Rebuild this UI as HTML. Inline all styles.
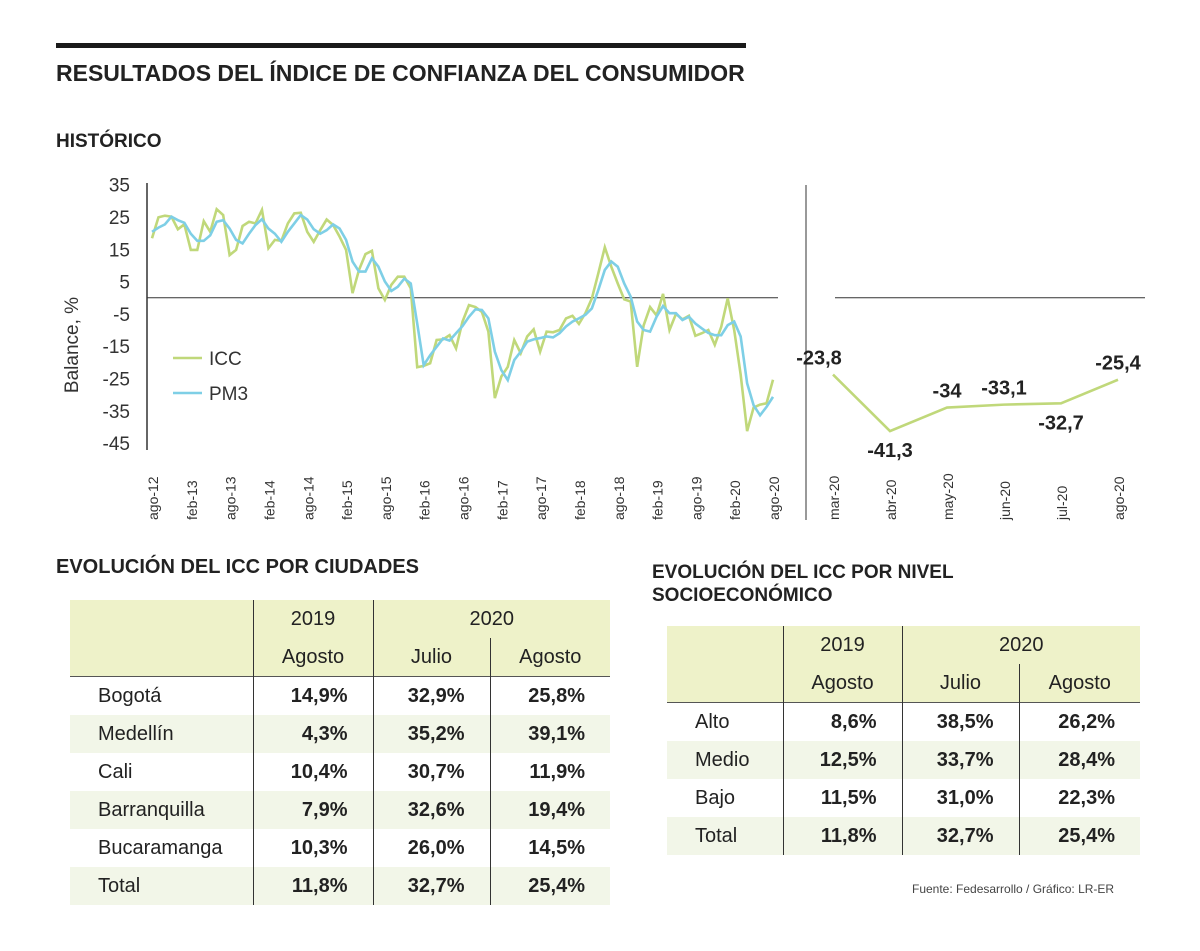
<!DOCTYPE html>
<html><head><meta charset="utf-8">
<style>
body{margin:0;background:#fff;font-family:"Liberation Sans",sans-serif;color:#222;}
#wrap{position:relative;width:1200px;height:951px;overflow:hidden;}
.t{position:absolute;white-space:nowrap;}
table{position:absolute;border-collapse:collapse;font-size:20px;}
td{height:38px;padding:0;}
</style></head><body>
<div id="wrap">
<div style="position:absolute;left:56px;top:43px;width:690px;height:5px;background:#1a1a1a"></div>
<div class="t" style="left:56px;top:60px;font-size:23px;font-weight:bold;">RESULTADOS DEL ÍNDICE DE CONFIANZA DEL CONSUMIDOR</div>
<div class="t" style="left:56px;top:131px;font-size:19px;font-weight:bold;">HISTÓRICO</div>
<svg id="chart" width="1200" height="560" style="position:absolute;left:0;top:0"></svg>
<div class="t" style="left:56px;top:556px;font-size:20px;font-weight:bold;">EVOLUCIÓN DEL ICC POR CIUDADES</div>
<div class="t" style="left:652px;top:561px;font-size:19px;font-weight:bold;line-height:23px;">EVOLUCIÓN DEL ICC POR NIVEL<br>SOCIOECONÓMICO</div>

<table style="left:70px;top:600px;width:540px">
<colgroup><col style="width:183px"><col style="width:120px"><col style="width:117px"><col style="width:120px"></colgroup>
<tr style="background:#eef2c9"><td></td><td style="border-left:1px solid #333;text-align:center">2019</td><td colspan="2" style="border-left:1px solid #333;text-align:center">2020</td></tr>
<tr style="background:#eef2c9;border-bottom:1px solid #555"><td></td><td style="border-left:1px solid #333;text-align:center">Agosto</td><td style="border-left:1px solid #333;text-align:center">Julio</td><td style="border-left:1px solid #333;text-align:center">Agosto</td></tr>
</table>
<table style="left:667px;top:626px;width:473px">
<colgroup><col style="width:116px"><col style="width:119px"><col style="width:117px"><col style="width:121px"></colgroup>
<tr style="background:#eef2c9"><td></td><td style="border-left:1px solid #333;text-align:center">2019</td><td colspan="2" style="border-left:1px solid #333;text-align:center">2020</td></tr>
<tr style="background:#eef2c9;border-bottom:1px solid #555"><td></td><td style="border-left:1px solid #333;text-align:center">Agosto</td><td style="border-left:1px solid #333;text-align:center">Julio</td><td style="border-left:1px solid #333;text-align:center">Agosto</td></tr>
</table>
<div class="t" style="left:912px;top:882px;font-size:12px;color:#444">Fuente: Fedesarrollo / Gráfico: LR-ER</div>
</div>
<script>
const icc=[18.4,24.9,25.4,25.1,21.2,22.7,14.8,14.8,23.7,20.4,27.4,25.6,13.2,14.8,22.2,23.5,23,27.2,15.3,17.9,17.6,23,26.1,26.3,20.4,17.3,20.9,24.2,22.5,18.9,14.8,1.4,8.6,13.5,14.5,2.9,-0.7,4,6.5,6.5,2.9,-21.5,-21.1,-20.3,-13.1,-12.9,-11.6,-15.7,-7.4,-2.3,-2.9,-4.4,-10.5,-31.1,-24.4,-21.4,-13.1,-17.2,-12,-9.8,-16.7,-10.5,-10.7,-10,-6.4,-5.6,-8.1,-4.8,-0.2,7.6,15.6,9.6,4.4,-0.5,-1.2,-21.4,-8.6,-2.9,-5.5,1.2,-10,-5,-6.7,-5.6,-11.8,-11,-10,-14.6,-9,-0.2,-10,-23.8,-41.3,-34,-33.1,-32.7,-25.4];
const pm3=[20.4,21.7,22.7,25.1,24,23.2,19.8,17.6,17.6,19.3,23.5,24,21.4,17.9,16.8,19.8,22.5,24.3,21.4,19.8,17.3,20.4,23,25.6,24.2,21.2,19.8,20.9,22.7,21.4,17.9,11.2,8.1,8.1,12.2,9.6,5,2.1,3.4,5.9,4.4,-8,-20.9,-17.8,-15.2,-12.6,-13.3,-11,-8.8,-5.9,-3.6,-3.8,-6.4,-16.7,-22.4,-25.5,-19.3,-16.7,-13.6,-12.9,-12.5,-12,-12.3,-11,-8.9,-7.4,-6.4,-5.3,-3.3,2.4,8.6,11.2,9.6,4.4,0.3,-7.4,-10,-10.5,-5.9,-2.6,-4.8,-4.8,-6.9,-5.9,-8,-9.5,-10.9,-11.6,-11.6,-8.5,-7.4,-12,-26.5,-33.3,-36.4,-33.8,-30.7];
const yTicks=[35,25,15,5,-5,-15,-25,-35,-45];
const xLabels=["ago-12","feb-13","ago-13","feb-14","ago-14","feb-15","ago-15","feb-16","ago-16","feb-17","ago-17","feb-18","ago-18","feb-19","ago-19","feb-20","ago-20"];
const recentLabels=["mar-20","abr-20","may-20","jun-20","jul-20","ago-20"];
const recentVals=[-23.8,-41.3,-34,-33.1,-32.7,-25.4];
const recentText=["-23,8","-41,3","-34","-33,1","-32,7","-25,4"];
const cities=["Bogotá","Medellín","Cali","Barranquilla","Bucaramanga","Total"];
const cityVals=[["14,9%","32,9%","25,8%"],["4,3%","35,2%","39,1%"],["10,4%","30,7%","11,9%"],["7,9%","32,6%","19,4%"],["10,3%","26,0%","14,5%"],["11,8%","32,7%","25,4%"]];
const levels=["Alto","Medio","Bajo","Total"];
const levelVals=[["8,6%","38,5%","26,2%"],["12,5%","33,7%","28,4%"],["11,5%","31,0%","22,3%"],["11,8%","32,7%","25,4%"]];

const NS="http://www.w3.org/2000/svg";
const svg=document.getElementById('chart');
const yS=v=>297.7-v*3.23;
const xS=i=>152+i*(621/96);
const xR=i=>833+i*57;
function mk(tag,a,txt){const e=document.createElementNS(NS,tag);for(const k in a)e.setAttribute(k,a[k]);if(txt!==undefined)e.textContent=txt;svg.appendChild(e);return e;}
let e;
e=mk('line',{x1:147,y1:183,x2:147,y2:450,stroke:'#333','stroke-width':1.5});


e=mk('line',{x1:147,y1:yS(0),x2:778,y2:yS(0),stroke:'#333','stroke-width':1});


e=mk('line',{x1:806,y1:185,x2:806,y2:520,stroke:'#333','stroke-width':1});


e=mk('line',{x1:835,y1:yS(0),x2:1145,y2:yS(0),stroke:'#333','stroke-width':1});


yTicks.forEach(v=>{e=mk('text',{x:130,y:yS(v)+7,'text-anchor':'end','font-size':19,fill:'#333'},String(v));

});
e=mk('text',{x:0,y:0,transform:'translate(78,345) rotate(-90)','text-anchor':'middle','font-size':19,fill:'#333'},'Balance, %');


xLabels.forEach((l,k)=>{const x=xS(k*6);e=mk('text',{x:0,y:0,transform:`translate(${x+6},520) rotate(-90)`,'font-size':14,fill:'#333'},l);

});
recentLabels.forEach((l,k)=>{e=mk('text',{x:0,y:0,transform:`translate(${xR(k)+6},520) rotate(-90)`,'font-size':14,fill:'#333'},l);

});
e=mk('polyline',{points:icc.map((v,i)=>xS(i)+','+yS(v)).join(' '),fill:'none',stroke:'#c0d87a','stroke-width':2.6,'stroke-linejoin':'miter'});


e=mk('polyline',{points:pm3.map((v,i)=>xS(i)+','+yS(v)).join(' '),fill:'none',stroke:'#7ecfe6','stroke-width':2.6});


e=mk('polyline',{points:recentVals.map((v,i)=>xR(i)+','+yS(v)).join(' '),fill:'none',stroke:'#c0d87a','stroke-width':2.6});


recentVals.forEach((v,i)=>{const below=(i===1||i===4);const dx=(i===0?-14:0);
e=mk('text',{x:xR(i)+dx,y:below?yS(v)+26:yS(v)-10,'text-anchor':'middle','font-size':20,'font-weight':'bold',fill:'#222'},recentText[i]);

});
[['ICC','#c0d87a',358],['PM3','#7ecfe6',393]].forEach(([n,c,y])=>{
e=mk('line',{x1:173,y1:y,x2:202,y2:y,stroke:c,'stroke-width':2.6});


e=mk('text',{x:209,y:y+7,'font-size':19,fill:'#333'},n);

});

function fill(tbl,names,vals,shaded){
 vals.forEach((r,i)=>{const tr=document.createElement('tr');
  
  
  if(shaded.includes(i))tr.style.background='#f2f6e8';
  let h=`<td style="padding-left:28px">${names[i]}</td>`;
  r.forEach((c,j)=>{h+=`<td style="border-left:1px solid #333;text-align:right;padding-right:25px;font-weight:bold">${c}</td>`;});
  tr.innerHTML=h;tbl.appendChild(tr);});
}
const tables=document.querySelectorAll('table');
fill(tables[0].tBodies[0]||tables[0],cities,cityVals,[1,3,5]);
fill(tables[1].tBodies[0]||tables[1],levels,levelVals,[1,3]);
</script>
</body></html>
